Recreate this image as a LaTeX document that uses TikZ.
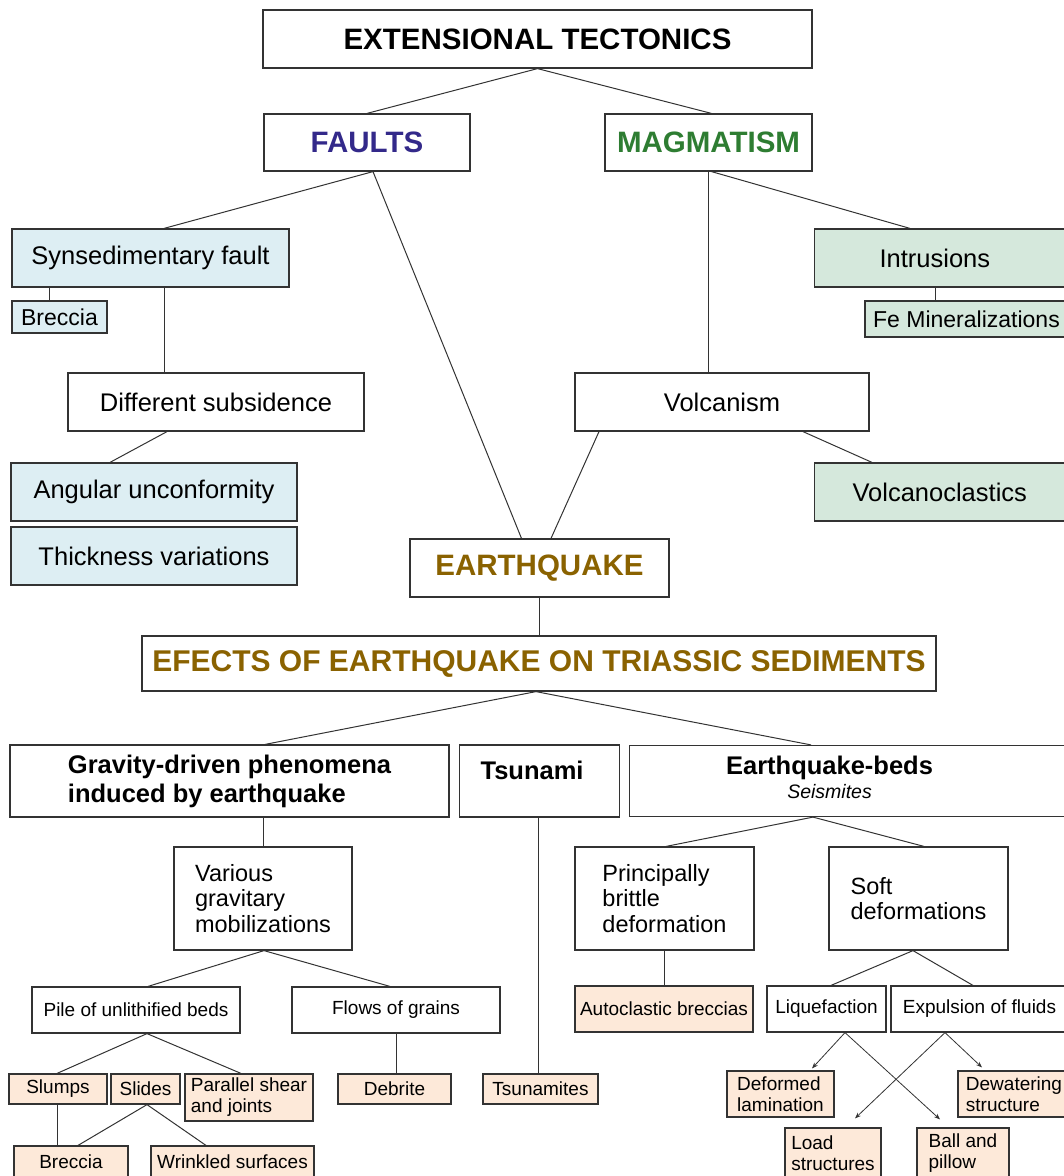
\documentclass[tikz,border=0pt]{standalone}
\usepackage{fontspec}
\setmainfont{Liberation Sans}
\usetikzlibrary{arrows.meta}

\definecolor{linegray}{RGB}{51,51,51}
\definecolor{faultblue}{RGB}{51,41,138}
\definecolor{magmagreen}{RGB}{46,125,50}
\definecolor{quakebrown}{RGB}{138,98,0}
\definecolor{bluefill}{RGB}{221,238,243}
\definecolor{greenfill}{RGB}{213,232,220}
\definecolor{peachfill}{RGB}{253,233,217}

\begin{document}
\begin{tikzpicture}[
    x=1pt, y=-1pt,
    wh/.style 2 args={minimum width=#1pt, minimum height=#2pt},
    box/.style={draw=linegray, line width=1.2pt, inner sep=0pt, fill=white},
    headbox/.style={box, font=\fontsize{29.5}{34}\selectfont\bfseries},
    midbox/.style={box, font=\fontsize{25.5}{29}\selectfont},
    topicbox/.style={box, align=left, font=\fontsize{25.5}{29}\selectfont\bfseries},
    kindbox/.style={box, align=left, font=\fontsize{23.5}{25.5}\selectfont},
    leafbox/.style={box, align=left, font=\fontsize{19}{21}\selectfont},
    link/.style={draw=linegray, line width=1pt},
    arrow/.style={link, line width=0.8pt, -{Stealth[length=6pt, width=4.5pt]}}
]

% page frame, boxes on the right run off the page
\useasboundingbox (0,0) rectangle (1064,1176);
\clip (0,0) rectangle (1064,1176);

% Upper part: tectonics, faults and magmatism
\node[headbox, wh={549}{58}] (ext) at (537.5,39) {EXTENSIONAL TECTONICS};
\node[headbox, wh={206}{57}, text=faultblue] (faults) at (367,142.5) {FAULTS};
\node[headbox, wh={207}{57}, text=magmagreen] (magma) at (708.5,142.5) {MAGMATISM};

\node[midbox, wh={277}{58}, fill=bluefill] (synfault) at (150.5,258) {Synsedimentary fault};
\node[midbox, wh={95}{32}, fill=bluefill, font=\fontsize{23}{26}\selectfont] (breccia) at (59.5,317) {Breccia};
\node[midbox, wh={296}{58}] (subsid) at (216,402) {Different subsidence};
\node[midbox, wh={286}{58}, fill=bluefill] (angular) at (154,492) {Angular unconformity};
\node[midbox, wh={286}{58}, fill=bluefill] (thick) at (154,556) {Thickness variations};

\node[midbox, wh={294}{58}] (volc) at (722,402) {Volcanism};
\node[midbox, minimum height=58pt, fill=greenfill, anchor=west, align=left, inner xsep=65pt, text width=200pt] (intr) at (814,258) {Intrusions};
\node[midbox, wh={203}{36}, fill=greenfill, font=\fontsize{23}{26}\selectfont] (femin) at (966.5,319) {Fe Mineralizations};
\node[midbox, minimum height=58pt, fill=greenfill, anchor=west, align=left, inner xsep=38pt, text width=250pt] (volcano) at (814,492) {Volcanoclastics};

% Earthquake and its effects
\node[headbox, wh={259}{58}, text=quakebrown] (quake) at (539.5,568) {EARTHQUAKE};
\node[headbox, wh={794}{55}, text=quakebrown, font=\fontsize{30}{34}\selectfont\bfseries] (effects) at (539,663.5) {EFECTS OF EARTHQUAKE ON TRIASSIC SEDIMENTS};

\node[topicbox, wh={439}{72}] (gravity) at (229.5,781) {Gravity-driven phenomena\\induced by earthquake};
\node[topicbox, minimum height=72pt, anchor=west, inner xsep=21pt, text width=118pt, text depth=22pt] (tsunami) at (459,781) {Tsunami};
\node[topicbox, minimum height=71pt, anchor=west, inner xsep=96.5pt, text width=300pt] (eqbeds) at (629,781)
    {\begin{tabular}{@{}c@{}}Earthquake-beds\\[-5pt] \fontsize{19.5}{22}\selectfont\mdseries\itshape Seismites\end{tabular}};

\node[kindbox, wh={178}{103}] (various) at (263,898.5) {Various\\gravitary\\mobilizations};
\node[kindbox, wh={179}{103}] (brittle) at (664.5,898.5) {Principally\\brittle\\deformation};
\node[kindbox, wh={179}{103}] (soft) at (918.5,898.5) {Soft\\deformations};

% Lower left: gravity-driven and tsunami deposits
\node[leafbox, wh={208}{46}] (pile) at (136,1010) {Pile of unlithified beds};
\node[leafbox, wh={208}{46}] (flows) at (396,1010) {Flows of grains};
\node[leafbox, wh={98}{30}, fill=peachfill] (slumps) at (58,1089) {Slumps};
\node[leafbox, wh={69}{30}, fill=peachfill] (slides) at (145.5,1089) {Slides};
\node[leafbox, wh={128}{47}, fill=peachfill] (shear) at (249,1097.5) {Parallel shear\\and joints};
\node[leafbox, wh={113}{30}, fill=peachfill] (debrite) at (394.5,1089) {Debrite};
\node[leafbox, wh={115}{30}, fill=peachfill] (tsunamites) at (540.5,1089) {Tsunamites};
\node[leafbox, wh={114}{32}, fill=peachfill] (breccialow) at (71,1162) {Breccia};
\node[leafbox, wh={163}{32}, fill=peachfill] (wrinkled) at (232.5,1162) {Wrinkled surfaces};

% Lower right: seismites
\node[leafbox, wh={178}{46}, fill=peachfill] (autocl) at (664,1009) {Autoclastic breccias};
\node[leafbox, wh={119}{46}] (liquef) at (826.5,1009) {Liquefaction};
\node[leafbox, wh={177}{46}] (expul) at (979.5,1009) {Expulsion of fluids};
\node[leafbox, wh={107}{46}, fill=peachfill] (deformed) at (780.5,1094) {Deformed\\lamination};
\node[leafbox, wh={112}{46}, fill=peachfill] (dewater) at (1014,1094) {Dewatering\\structure};
\node[leafbox, wh={96}{50}, fill=peachfill] (load) at (833,1153) {Load\\structures};
\node[leafbox, wh={92}{50}, fill=peachfill] (ball) at (963,1153) {Ball and\\pillow};

% Connectors
\draw[link] (ext.south) -- (faults.north);
\draw[link] (ext.south) -- ([xshift=3pt]magma.north);
\draw[link] ([xshift=6pt]faults.south) -- ([xshift=13.5pt]synfault.north);
\draw[link] ([xshift=6pt]faults.south) -- ([xshift=-18pt]quake.north);
\draw[link] ([xshift=-10.5pt]breccia.north) -- ([xshift=-10.5pt]breccia.north |- synfault.south);
\draw[link] ([xshift=13.5pt]synfault.south) -- ([xshift=13.5pt]synfault.south |- subsid.north);
\draw[link] ([xshift=-49pt]subsid.south) -- ([xshift=-44pt]angular.north);
\draw[link] (magma.south) -- (magma.south |- volc.north);
\draw[link] ([xshift=3pt]magma.south) -- ([xshift=96pt]intr.north west);
\draw[link] ([xshift=121pt]intr.south west) -- ([xshift=121pt]intr.south west |- femin.north);
\draw[link] ([xshift=81pt]volc.south) -- ([xshift=58pt]volcano.north west);
\draw[link] ([xshift=-123pt]volc.south) -- ([xshift=11.5pt]quake.north);
\draw[link] (quake.south) -- (quake.south |- effects.north);
\draw[link] ([xshift=-3pt]effects.south) -- ([xshift=35.5pt]gravity.north);
\draw[link] ([xshift=-3pt]effects.south) -- ([xshift=182pt]eqbeds.north west);
\draw[link] (various.north) -- (various.north |- gravity.south);
\draw[link] ([xshift=-1pt]tsunami.south) -- ([xshift=-1pt]tsunami.south |- tsunamites.north);
\draw[link] ([xshift=184pt]eqbeds.south west) -- ([xshift=1.5pt]brittle.north);
\draw[link] ([xshift=184pt]eqbeds.south west) -- ([xshift=5.5pt]soft.north);
\draw[link] ([xshift=1pt]various.south) -- ([xshift=12pt]pile.north);
\draw[link] ([xshift=1pt]various.south) -- ([xshift=-6pt]flows.north);
\draw[link] ([xshift=11pt]pile.south) -- ([xshift=-1pt]slumps.north);
\draw[link] ([xshift=11pt]pile.south) -- ([xshift=-8pt]shear.north);
\draw[link] (flows.south) -- (flows.south |- debrite.north);
\draw[link] ([xshift=-1pt]slumps.south) -- ([xshift=-1pt]slumps.south |- breccialow.north);
\draw[link] ([xshift=1.5pt]slides.south) -- ([xshift=7pt]breccialow.north);
\draw[link] ([xshift=1.5pt]slides.south) -- ([xshift=-26.5pt]wrinkled.north);
\draw[link] (brittle.south) -- (brittle.south |- autocl.north);
\draw[link] ([xshift=-5.5pt]soft.south) -- ([xshift=4.5pt]liquef.north);
\draw[link] ([xshift=-5.5pt]soft.south) -- ([xshift=-6.5pt]expul.north);

% Arrows from liquefaction and fluid expulsion
\draw[arrow] ([xshift=18.5pt]liquef.south) -- ([xshift=31.5pt, yshift=2pt]deformed.north);
\draw[arrow] ([xshift=18.5pt]liquef.south) -- ([xshift=-23pt, yshift=8pt]ball.north);
\draw[arrow] ([xshift=-34.5pt]expul.south) -- ([xshift=22pt, yshift=9pt]load.north);
\draw[arrow] ([xshift=-34.5pt]expul.south) -- ([xshift=-32pt, yshift=3pt]dewater.north);

\end{tikzpicture}
\end{document}
